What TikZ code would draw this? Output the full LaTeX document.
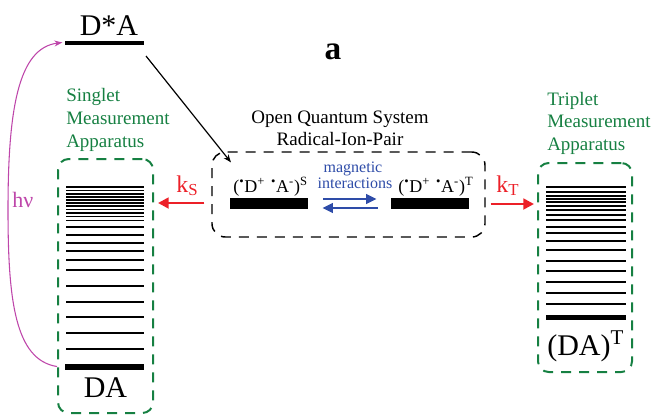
\documentclass[tikz,border=0pt]{standalone}
\usepackage{fontspec}
\setmainfont{Liberation Serif}
\usetikzlibrary{arrows.meta}
\definecolor{appgreen}{RGB}{22,128,66}
\definecolor{kred}{RGB}{236,32,40}
\definecolor{magblue}{RGB}{46,76,168}
\definecolor{hvmag}{RGB}{190,70,170}
\tikzset{
  level/.style={line width=1.4pt},
  groundlevel/.style={line width=4.5pt},
  apparatus/.style={draw=appgreen, line width=1.5pt, dash pattern=on 7.5pt off 6pt, rounded corners=8pt, inner sep=0pt},
  systembox/.style={draw=black, line width=1.1pt, dash pattern=on 7.5pt off 6pt, rounded corners=10pt, inner sep=0pt},
  pairbar/.style={fill=black, inner sep=0pt, minimum width=58.5pt, minimum height=8pt},
  rate/.style={kred, line width=2.2pt, -{Triangle[length=8pt,width=8pt]}},
  magarrow/.style={magblue, line width=2.2pt, -{Triangle[length=8pt,width=7pt]}},
  bigtxt/.style={inner sep=0pt, font=\fontsize{22.5}{27}\selectfont},
  midtxt/.style={inner sep=0pt, font=\fontsize{14.25}{17}\selectfont},
  greentxt/.style={midtxt, text=appgreen, anchor=base west},
  pairtxt/.style={inner sep=0pt, font=\fontsize{13.5}{16}\selectfont, anchor=base west},
  bluetxt/.style={inner sep=0pt, text=magblue, font=\fontsize{12}{14}\selectfont, anchor=base},
  ktxt/.style={inner sep=0pt, text=kred, font=\fontsize{18}{21}\selectfont, anchor=base west},
}
\begin{document}
\begin{tikzpicture}[x=0.75pt,y=-0.75pt]
\useasboundingbox (0,0) rectangle (652,418);

% boxes
\node[apparatus, minimum width=71.25pt, minimum height=190.5pt] (sbox) at (105.5,286) {};
\node[apparatus, minimum width=70.5pt, minimum height=156.75pt] (tbox) at (585,267.5) {};
\node[systembox, minimum width=204.75pt, minimum height=63.75pt] (sysbox) at (348.5,194.5) {};

% excited state
\node[bigtxt, anchor=base] (dstar) at (109,35) {D*A};
\coordinate (dsL) at (65,42.5);
\coordinate (dsR) at (144,42.5);
\draw[line width=3pt] (dsL) -- (dsR);

\node[inner sep=0pt, font=\bfseries\fontsize{25}{30}\selectfont] (lbla) at (333,52) {a};

% singlet apparatus
\node[greentxt] (s1) at (66,101) {Singlet};
\node[greentxt] (s2) at (66,124) {Measurement};
\node[greentxt] (s3) at (66,147) {Apparatus};
\foreach \y in {187,190.5,194,197,200,203,206,209.5,213,216.5,220.5,227,235,243,251,260,270,286,302,317,333,349}
  \draw[level] (66,\y) -- (144,\y);
\coordinate (gsL) at (65,366.5);
\coordinate (gsR) at (144,366.5);
\draw[groundlevel] (gsL) -- (gsR);
\node[bigtxt, anchor=base] (da) at (105.5,397) {DA};

% triplet apparatus
\node[greentxt] (t1) at (547,105) {Triplet};
\node[greentxt] (t2) at (547,127.5) {Measurement};
\node[greentxt] (t3) at (547,150) {Apparatus};
\foreach \y in {187,192,196,199,202,206,210,215,220,227,233,241,250,261,271,282,293,304}
  \draw[level] (546,\y) -- (626,\y);
\coordinate (tgL) at (546,317);
\coordinate (tgR) at (626,317);
\draw[line width=3.75pt] (tgL) -- (tgR);
\node[bigtxt, anchor=base west] (dat) at (547,355) {(DA)\textsuperscript{T}};

% open quantum system
\node[midtxt, anchor=base] (oqs) at (340,123) {Open Quantum System};
\node[midtxt, anchor=base] (rip) at (340,145) {Radical-Ion-Pair};
\node[pairbar] (barS) at (269,203.5) {};
\node[pairbar] (barT) at (430,203.5) {};
\node[pairtxt] (labS) at (233,192) {(\textsuperscript{•}D\textsuperscript{+}\,\,\textsuperscript{•}A\textsuperscript{-})\textsuperscript{S}};
\node[pairtxt] (labT) at (398,192) {(\textsuperscript{•}D\textsuperscript{+}\,\,\textsuperscript{•}A\textsuperscript{-})\textsuperscript{T}};
\node[bluetxt] (mag1) at (353,172.5) {magnetic};
\node[bluetxt] (mag2) at (355,188) {interactions};
\draw[magarrow] ([shift={(15,-4.5)}]barS.east) -- ([shift={(-14,-4.5)}]barT.west);
\draw[magarrow] ([shift={(-13,4.5)}]barT.west) -- ([shift={(14,4.5)}]barS.east);

% rates
\draw[rate] ([shift={(-7,8.5)}]sysbox.west) -- ([shift={(4,-83)}]sbox.east);
\node[ktxt] (ks) at (176,192) {k\textsubscript{S}};
\draw[rate] ([shift={(5,9.5)}]sysbox.east) -- ([shift={(-3,-63.5)}]tbox.west);
\node[ktxt] (kt) at (496,192) {k\textsubscript{T}};

% transitions
\draw[line width=0.9pt, -{Stealth[length=6pt,width=4.5pt]}] ([shift={(2,13.5)}]dsR) -- ([shift={(-2,-14)}]labS.north west);
\draw[hvmag, line width=0.8pt, -{Stealth[length=6pt,width=4.5pt]}] (sbox.west |- gsL) .. controls (15,360) and (8,300) .. (8,210) .. controls (8,110) and (18,48) .. ([xshift=-2]dsL);
\node[inner sep=0pt, text=hvmag, font=\fontsize{16.5}{20}\selectfont, anchor=base west] (hv) at (12,207) {hν};
\end{tikzpicture}
\end{document}
